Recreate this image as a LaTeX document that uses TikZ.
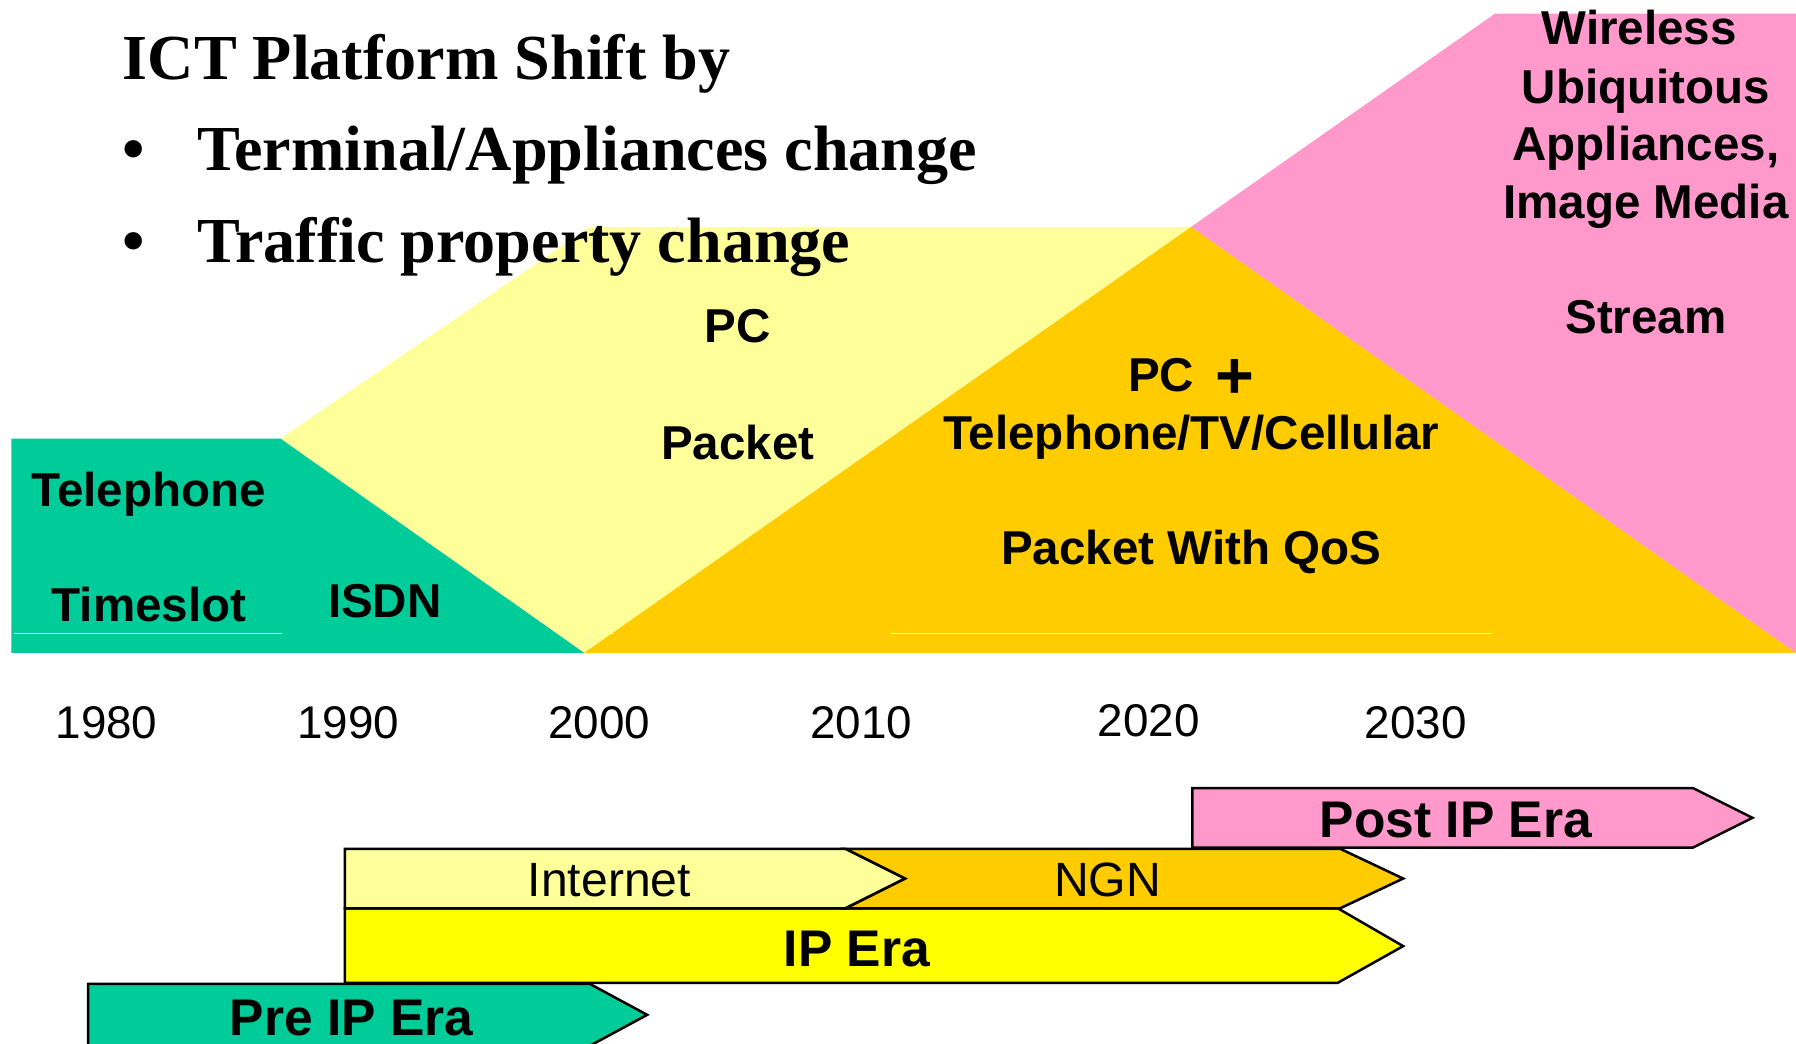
\documentclass[tikz,border=0pt]{standalone}
\usepackage{fontspec}
\setmainfont{Liberation Serif}
\newfontfamily\arialfont{Liberation Sans}

\definecolor{ictgreen}{HTML}{00CC99}
\definecolor{paleyellow}{HTML}{FFFF99}
\definecolor{amber}{HTML}{FFCC00}
\definecolor{rose}{HTML}{FF99CC}
\definecolor{brightyellow}{HTML}{FFFF00}

\tikzset{
  lbl/.style={font=\arialfont\bfseries\fontsize{41.5}{49}\selectfont, anchor=base, inner sep=0pt},
  yearlbl/.style={font=\arialfont\fontsize{40}{48}\selectfont, anchor=base, inner sep=0pt},
  eralbl/.style={font=\arialfont\bfseries\fontsize{45}{54}\selectfont, anchor=base, inner sep=0pt},
  techlbl/.style={font=\arialfont\fontsize{42}{50}\selectfont, anchor=base, inner sep=0pt},
  titlelbl/.style={font=\bfseries\fontsize{56}{67}\selectfont, anchor=base west, inner sep=0pt},
  erabar/.style={draw=black, line width=2.2pt, line join=miter},
  seam/.style={draw=white, line width=1.4pt}
}

\begin{document}
\begin{tikzpicture}[x=1pt,y=-1pt]
\useasboundingbox (0,0) rectangle (1568,911);
\fill[white] (0,0) rectangle (1568,911);
\clip (0,0) rectangle (1568,911);

% coloured platform areas
\fill[paleyellow] (245,383) -- (515,198) -- (1040,198) -- (510,570) -- cycle;
\fill[ictgreen] (10,383) -- (245,383) -- (510,570) -- (10,570) -- cycle;
\fill[amber] (510,570) -- (1040,198) -- (1568,570) -- cycle;
\fill[rose] (1040,198) -- (1305,12) -- (1568,12) -- (1568,570) -- cycle;

% thin seams along the bottom
\draw[seam] (12,553) -- (246,553);
\draw[seam] (512,553) -- (535,553);
\draw[seam] (778,553) -- (1303,553);

% heading
\node[titlelbl] (title) at (107,69) {ICT Platform Shift by};
\node[titlelbl] (bul1) at (107,149) {\textbullet};
\node[titlelbl] (item1) at (172,149) {Terminal/Appliances change};
\node[titlelbl] (bul2) at (107,229) {\textbullet};
\node[titlelbl] (item2) at (172,229) {Traffic property change};

% area labels
\node[lbl] (tel) at (130,442) {Telephone};
\node[lbl] (slot) at (130,543) {Timeslot};
\node[lbl] (isdn) at (336,539) {ISDN};
\node[lbl] (pc) at (644,299) {PC};
\node[lbl] (pkt) at (644,401) {Packet};
\node[lbl] (pcplus) at (1040,342) {PC\hspace{0.45em}\raisebox{-6pt}{\fontsize{58}{60}\selectfont+}};
\node[lbl] (ttc) at (1040,392) {Telephone/TV/Cellular};
\node[lbl] (qos) at (1040,493) {Packet With QoS};
\node[lbl] (wl) at (1431,39) {Wireless};
\node[lbl] (ubi) at (1437,90) {Ubiquitous};
\node[lbl] (app) at (1437,140) {Appliances,};
\node[lbl] (img) at (1437,191) {Image Media};
\node[lbl] (strm) at (1437,291) {Stream};

% years
\node[yearlbl] (y1980) at (93,645) {1980};
\node[yearlbl] (y1990) at (304,645) {1990};
\node[yearlbl] (y2000) at (523,645) {2000};
\node[yearlbl] (y2010) at (752,645) {2010};
\node[yearlbl] (y2020) at (1003,643) {2020};
\node[yearlbl] (y2030) at (1236,645) {2030};

% era bars
\filldraw[erabar, fill=brightyellow] (301,793) -- (1168,793) -- (1225,826) -- (1168,858) -- (301,858) -- cycle;
\filldraw[erabar, fill=ictgreen] (77,859) -- (515,859) -- (565,886) -- (515,913) -- (77,913) -- cycle;
\filldraw[erabar, fill=amber] (738,741) -- (1170,741) -- (1225,767) -- (1170,793) -- (738,793) -- (790,767) -- cycle;
\filldraw[erabar, fill=paleyellow] (301,741) -- (738,741) -- (790,767) -- (738,793) -- (301,793) -- cycle;
\filldraw[erabar, fill=rose] (1041,688) -- (1478,688) -- (1530,714) -- (1478,740) -- (1041,740) -- cycle;

\node[eralbl] (post) at (1271,731) {Post IP Era};
\node[techlbl] (inet) at (532,783) {Internet};
\node[techlbl] (ngn) at (967,783) {NGN};
\node[eralbl] (ip) at (748,844) {IP Era};
\node[eralbl] (pre) at (307,904) {Pre IP Era};
\end{tikzpicture}
\end{document}
